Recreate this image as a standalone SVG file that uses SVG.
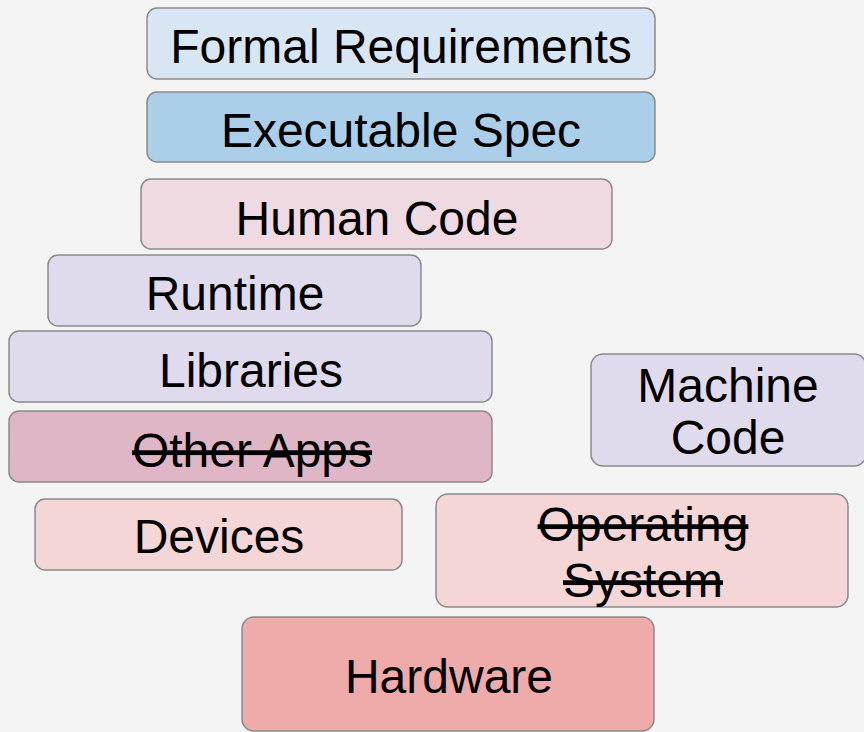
<svg xmlns="http://www.w3.org/2000/svg" width="864" height="732" viewBox="0 0 864 732">
  <style>
    .box { stroke: #8a8a8a; stroke-width: 1.5; }
    .lbl { font-family: "Liberation Sans", Arial, sans-serif; font-size: 48px; fill: #000; text-anchor: middle; }
    .struck { text-decoration: line-through; }
  </style>
  <rect width="864" height="732" fill="#f4f4f4"/>

  <g id="formal-requirements">
    <rect class="box" x="147" y="8" width="508" height="71" rx="10" fill="#d8e6f4"/>
    <text class="lbl" x="401" y="63">Formal Requirements</text>
  </g>
  <g id="executable-spec">
    <rect class="box" x="147" y="92" width="508" height="70" rx="10" fill="#abcee9"/>
    <text class="lbl" x="401" y="147">Executable Spec</text>
  </g>
  <g id="human-code">
    <rect class="box" x="141" y="179" width="471" height="70" rx="10" fill="#efdae2"/>
    <text class="lbl" x="377" y="235">Human Code</text>
  </g>
  <g id="runtime">
    <rect class="box" x="48" y="255" width="373" height="71" rx="10" fill="#dfdbec"/>
    <text class="lbl" x="235" y="310">Runtime</text>
  </g>
  <g id="libraries">
    <rect class="box" x="9" y="331" width="483" height="71" rx="10" fill="#dfdbec"/>
    <text class="lbl" x="251" y="387">Libraries</text>
  </g>
  <g id="other-apps">
    <rect class="box" x="9" y="411" width="483" height="71" rx="10" fill="#dfb6c6"/>
    <text class="lbl struck" x="252" y="467">Other Apps</text>
  </g>
  <g id="machine-code">
    <rect class="box" x="591" y="354" width="275" height="112" rx="12" fill="#dfdbec"/>
    <text class="lbl" x="728" y="402">Machine</text>
    <text class="lbl" x="728" y="454">Code</text>
  </g>
  <g id="devices">
    <rect class="box" x="35" y="499" width="367" height="71" rx="10" fill="#f5d6d6"/>
    <text class="lbl" x="219" y="553">Devices</text>
  </g>
  <g id="operating-system">
    <rect class="box" x="436" y="494" width="412" height="113" rx="12" fill="#f5d6d6"/>
    <text class="lbl struck" x="643" y="541">Operating</text>
    <text class="lbl struck" x="643" y="597">System</text>
  </g>
  <g id="hardware">
    <rect class="box" x="242" y="617" width="412" height="114" rx="12" fill="#efaaaa"/>
    <text class="lbl" x="449" y="693">Hardware</text>
  </g>
  <g id="connectors"/>
</svg>
